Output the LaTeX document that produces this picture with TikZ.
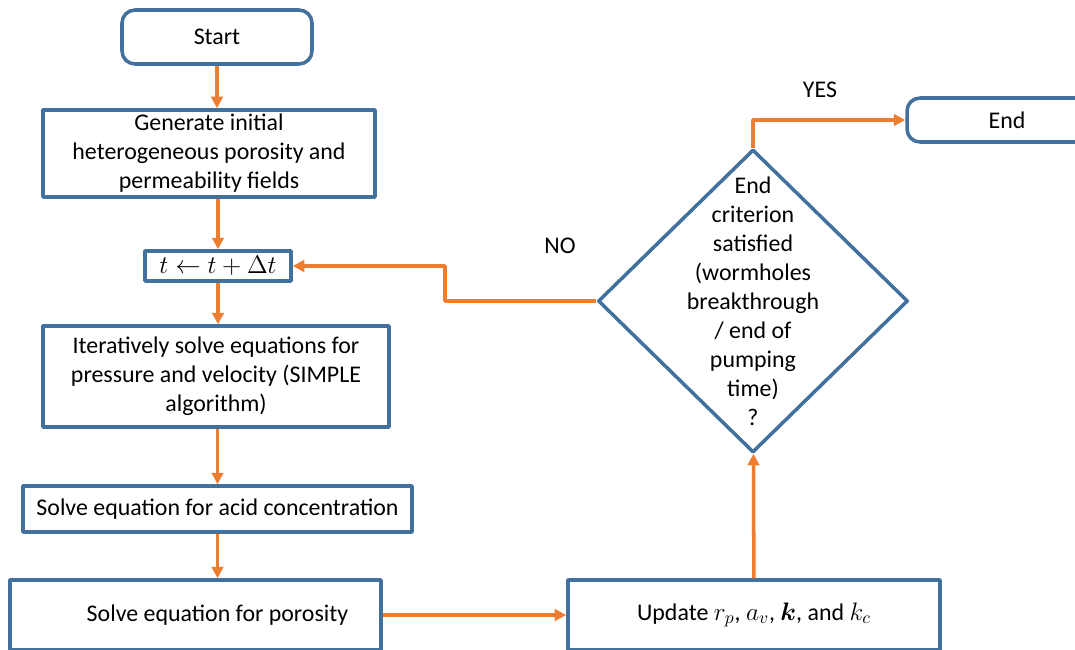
\documentclass[tikz,border=0pt]{standalone}
\usepackage{fontspec}
\setmainfont{Carlito}
\usepackage{bm}
\usetikzlibrary{shapes.geometric,arrows.meta}
\definecolor{boxblue}{RGB}{65,113,156}
\definecolor{flow}{RGB}{237,125,49}
\begin{document}
\begin{tikzpicture}[line join=round,>={Triangle[length=2.3mm,width=2.3mm]},font=\fontsize{13.6}{16.5}\selectfont]
		\tikzset{box/.style={draw=boxblue,line width=2pt,align=center,inner sep=0pt},
			term/.style={box,rounded corners=2.6mm},
			flowline/.style={draw=flow,line width=2pt,->}}
		\useasboundingbox (0,0) rectangle (21.5,-12.98);
		\clip (0,0) rectangle (21.5,-12.98);
		\node[term,minimum width=3.8cm,minimum height=1.08cm] (start) at (4.34,-0.74) {Start};
		\node[box,minimum width=6.64cm,minimum height=1.74cm] (init) at (4.18,-3.07) {Generate initial\\heterogeneous porosity and\\permeability fields};
		\node[box,minimum width=2.92cm,minimum height=0.6cm] (time) at (4.36,-5.32) {$t \leftarrow t + \Delta t$};
		\node[box,minimum width=6.92cm,minimum height=2.02cm] (flowsolve) at (4.32,-7.53) {Iteratively solve equations for\\pressure and velocity (SIMPLE\\algorithm)};
		\node[box,minimum width=7.78cm,minimum height=0.92cm] (acid) at (4.35,-10.18) {Solve equation for acid concentration};
		\node[box,minimum width=7.42cm,minimum height=1.4cm] (poro) at (3.91,-12.3) {\hspace*{0.88cm}Solve equation for porosity};
		\node[box,minimum width=7.44cm,minimum height=1.4cm] (update) at (15.08,-12.3) {Update $r_p$, $a_v$, $\bm{k}$, and $k_c$};
		\node[diamond,draw=boxblue,line width=2pt,minimum width=6.2cm,minimum height=6.06cm,inner sep=0pt] (check) at (15.06,-6.02) {};
		\node[align=center] at (check) {End\\criterion\\satisfied\\(wormholes\\breakthrough\\/ end of\\pumping\\time)\\?};
		\node[term,minimum width=4cm,minimum height=0.88cm] (stop) at (20.14,-2.4) {End};
		\node (yes) at (16.4,-1.8) {YES};
		\node (no) at (11.2,-4.92) {NO};
		\draw[flowline] (start.south) -- (start.south |- init.north);
		\draw[flowline] (time.north |- init.south) -- (time.north);
		\draw[flowline] (time.south) -- (time.south |- flowsolve.north);
		\draw[flowline] (acid.north |- flowsolve.south) -- (acid.north);
		\draw[flowline] (acid.south) -- (acid.south |- poro.north);
		\draw[flowline] (poro) -- (update);
		\draw[flowline] (update) -- (check);
		\draw[flowline] (check.west) -- (8.9,0 |- check.west) |- (time.east);
		\draw[flowline] (check.north) |- (stop.west);
\end{tikzpicture}
\end{document}
